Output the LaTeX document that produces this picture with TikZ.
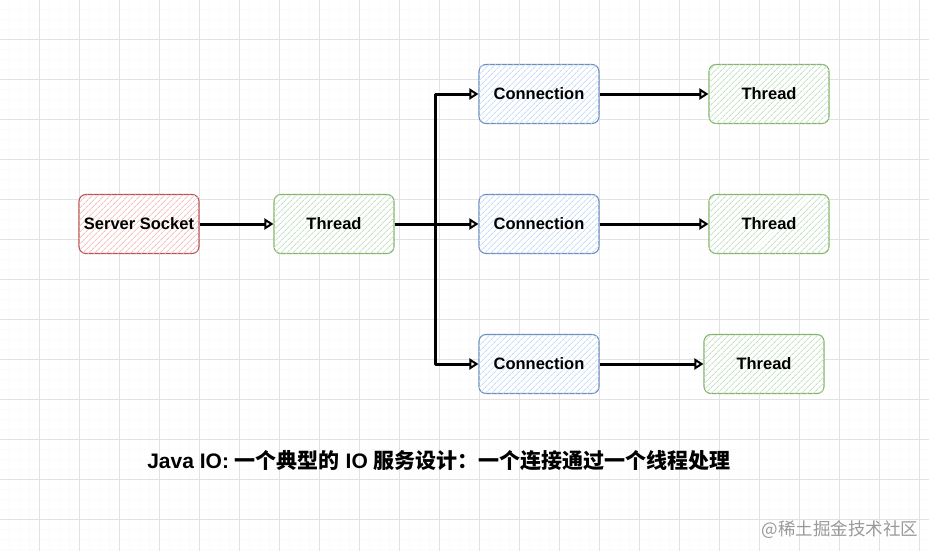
\documentclass[tikz,border=0pt]{standalone}
\usepackage{fontspec}
\setmainfont{Liberation Sans}
\newfontfamily\cjk{Noto Sans CJK SC}
\usetikzlibrary{arrows.meta,patterns.meta,positioning}
\definecolor{redfill}{HTML}{F4C2C0}
\definecolor{redline}{HTML}{B85450}
\definecolor{greenfill}{HTML}{C9E2C7}
\definecolor{greenline}{HTML}{82B366}
\definecolor{bluefill}{HTML}{CADDF8}
\definecolor{blueline}{HTML}{6C8EBF}
\definecolor{gridmajor}{HTML}{E2E2E2}
\definecolor{gridminor}{HTML}{FBFBFB}
\tikzset{
  box/.style={rounded corners=7pt, minimum width=120pt, minimum height=59pt,
    line width=1.1pt, font=\bfseries\fontsize{16.5}{18}\selectfont, inner sep=0pt},
  redbox/.style={box, draw=redline, fill=white,
    postaction={pattern={Lines[angle=45,distance=4pt,line width=0.9pt]}, pattern color=redfill}},
  greenbox/.style={box, draw=greenline, fill=white,
    postaction={pattern={Lines[angle=45,distance=4pt,line width=0.9pt]}, pattern color=greenfill}},
  bluebox/.style={box, draw=blueline, fill=white,
    postaction={pattern={Lines[angle=45,distance=4pt,line width=0.9pt]}, pattern color=bluefill}},
  conn/.style={line width=3pt, line join=round,
    -{Triangle[open,length=9pt,width=11pt,line width=2pt]}},
}
\begin{document}
\begin{tikzpicture}[x=1pt,y=-1pt]
\useasboundingbox (0,0) rectangle (929,551);
\fill[white] (0,0) rectangle (929,551);
% minor grid
\foreach \i in {-1,9,...,929} \draw[gridminor,line width=0.5pt] (\i,0) -- (\i,551);
\foreach \j in {-1,9,...,551} \draw[gridminor,line width=0.5pt] (0,\j) -- (929,\j);
% major grid
\foreach \i in {39,79,...,929} \draw[gridmajor,line width=0.7pt] (\i,0) -- (\i,551);
\foreach \j in {39,79,...,551} \draw[gridmajor,line width=0.7pt] (0,\j) -- (929,\j);

\node[redbox] (ss) at (139,224) {Server Socket};
\node[greenbox] (t0) at (334,224) {Thread};
\node[bluebox] (c1) at (539,94) {Connection};
\node[bluebox] (c2) at (539,224) {Connection};
\node[bluebox] (c3) at (539,364) {Connection};
\node[greenbox] (t1) at (769,94) {Thread};
\node[greenbox] (t2) at (769,224) {Thread};
\node[greenbox] (t3) at (764,364) {Thread};
\coordinate (br) at (435,224);

\draw[conn] (ss) -- (t0);
\draw[conn] (t0) -- (c2);
\draw[conn] (br) |- (c1);
\draw[conn] (br) |- (c3);
\draw[conn] (c1) -- (t1);
\draw[conn] (c2) -- (t2);
\draw[conn] (c3) -- (t3);

\node[font=\bfseries\fontsize{21}{24}\selectfont] (cap) at (439,461)
  {Java IO: {\cjk\bfseries 一个典型的} IO {\cjk\bfseries 服务设计：一个连接通过一个线程处理}};
\node[font=\cjk\fontsize{17.5}{20}\selectfont, text=black!40, anchor=east] (wm) at (922,530) {@稀土掘金技术社区};
\end{tikzpicture}
\end{document}
